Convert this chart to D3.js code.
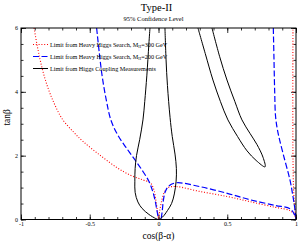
<!DOCTYPE html>
<html>
<head>
<meta charset="utf-8">
<script src="https://cdn.jsdelivr.net/npm/d3@7"></script>
<style>
body { margin: 0; background: #fff; }
text { font-family: "Liberation Serif", "DejaVu Serif", serif; }
</style>
</head>
<body>
<div class="vis"></div>
<script>
// chart data, [cos(b-a), tan b]
const X_TICKS = [-1, -0.5, 0, 0.5, 1];
const X_TICK_LABELS = ["-1", "-0.5", "0", "0.5", "1"];
const Y_TICKS = [0, 2, 4, 6];
const Y_TICK_LABELS = ["0", "2", "4", "6"];

const RED_LEFT = [[-0.905, 6], [-0.88, 5.4], [-0.85, 4.8], [-0.81, 4.2], [-0.76, 3.65], [-0.70, 3.15],
  [-0.62, 2.75], [-0.55, 2.45], [-0.43, 2.03], [-0.3, 1.62], [-0.2, 1.38], [-0.12, 1.25],
  [-0.06, 1.15], [-0.035, 0.95], [-0.02, 0.62], [-0.009, 0.3], [0, 0.02]];
const RED_RIGHT = [[0, 0.02], [0.01, 0.3], [0.025, 0.62], [0.045, 0.88], [0.07, 1.0], [0.13, 1.03],
  [0.3, 0.88], [0.5, 0.72], [0.665, 0.56], [0.85, 0.38], [0.956, 0.28], [0.99, 0.14], [0.998, 0.04]];
const RED_EDGE = [[0.998, 0.04], [0.99, 0.4], [0.982, 1.0], [0.978, 2], [0.977, 3], [0.977, 4.5], [0.978, 6]];

const BLUE_LEFT = [[-0.45, 6], [-0.43, 5.2], [-0.41, 4.5], [-0.38, 3.75], [-0.345, 3.1], [-0.29, 2.6],
  [-0.235, 2.25], [-0.18, 1.92], [-0.12, 1.55], [-0.07, 1.2], [-0.042, 0.88], [-0.025, 0.6],
  [-0.012, 0.3], [0, 0.02]];
const BLUE_RIGHT = [[0.02, 0.03], [0.028, 0.3], [0.036, 0.62], [0.05, 0.88], [0.075, 1.05], [0.13, 1.15],
  [0.3, 1.03], [0.5, 0.82], [0.665, 0.62], [0.85, 0.44], [0.956, 0.34], [0.99, 0.15], [1.0, 0.02]];
const BLUE_EDGE = [[1.0, 0.02], [0.993, 0.3], [0.975, 0.8], [0.956, 1.24], [0.905, 2.08], [0.87, 2.7],
  [0.852, 3.2], [0.845, 4], [0.84, 5], [0.835, 6]];

const BLACK_INNER = [[-0.062, 6], [-0.07, 5.5], [-0.085, 4.5], [-0.1, 3.7], [-0.113, 3.12], [-0.137, 2.5],
  [-0.16, 2.0], [-0.17, 1.6], [-0.172, 1.2], [-0.17, 0.85], [-0.15, 0.55], [-0.12, 0.35],
  [-0.07, 0.16], [-0.02, 0.03], [0, 0], [0.03, 0.08], [0.065, 0.28], [0.095, 0.5], [0.115, 0.8],
  [0.128, 1.2], [0.13, 1.6], [0.12, 2.05], [0.1, 2.6], [0.084, 3.2], [0.065, 4.2], [0.055, 5], [0.047, 6]];
const BLACK_OUTER = [[0.287, 6], [0.34, 5.2], [0.396, 4.37], [0.45, 3.7], [0.505, 3.12], [0.575, 2.6],
  [0.644, 2.15], [0.71, 1.85], [0.775, 1.65], [0.76, 1.95], [0.716, 2.35], [0.665, 2.7],
  [0.607, 3.12], [0.555, 3.7], [0.498, 4.37], [0.445, 5.1], [0.389, 6]];

const LEGEND = ["Limit from Heavy Higgs Search, M|H|=300 GeV", "Limit from Heavy Higgs Search, M|H|=200 GeV",
  "Limit from Higgs Coupling Measurements"];

const FRAME_WIDTH = 299;
const FRAME_HEIGHT = 243;
const MARGINS = {left: 21, right: 3, top: 28, bottom: 23.5};

const VIS_WIDTH = FRAME_WIDTH - MARGINS.left - MARGINS.right;
const VIS_HEIGHT = FRAME_HEIGHT - MARGINS.top - MARGINS.bottom;

const FRAME = d3.select('.vis')
  .append('svg')
    .attr('width', FRAME_WIDTH)
    .attr('height', FRAME_HEIGHT);

const X_SCALE = d3.scaleLinear().domain([-1, 1]).range([MARGINS.left, MARGINS.left + VIS_WIDTH]);
const Y_SCALE = d3.scaleLinear().domain([0, 6]).range([MARGINS.top + VIS_HEIGHT, MARGINS.top]);

const defs = FRAME.append('defs');
defs.append('clipPath').attr('id', 'clip')
  .append('rect')
    .attr('x', MARGINS.left).attr('y', MARGINS.top)
    .attr('width', VIS_WIDTH).attr('height', VIS_HEIGHT);

// axes with inside ticks on all four sides
const xMinor = d3.range(-1, 1.001, 0.1);
const yMinor = d3.range(0, 6.001, 0.5);

function axisGroup(axis, transform) {
  const g = FRAME.append('g').attr('transform', transform).call(axis);
  g.select('.domain').remove();
  g.selectAll('line').attr('stroke', '#000').attr('stroke-width', 0.8);
  return g;
}

const bottomY = MARGINS.top + VIS_HEIGHT;
const rightX = MARGINS.left + VIS_WIDTH;

axisGroup(d3.axisBottom(X_SCALE).tickValues(xMinor).tickSize(-2.5).tickFormat(''), `translate(0,${bottomY})`);
axisGroup(d3.axisTop(X_SCALE).tickValues(xMinor).tickSize(-2.5).tickFormat(''), `translate(0,${MARGINS.top})`);
axisGroup(d3.axisLeft(Y_SCALE).tickValues(yMinor).tickSize(-2.5).tickFormat(''), `translate(${MARGINS.left},0)`);
axisGroup(d3.axisRight(Y_SCALE).tickValues(yMinor).tickSize(-2.5).tickFormat(''), `translate(${rightX},0)`);

const xAxis = axisGroup(d3.axisBottom(X_SCALE).tickValues(X_TICKS).tickSize(-5).tickPadding(3)
  .tickFormat((d, i) => X_TICK_LABELS[i]), `translate(0,${bottomY})`);
axisGroup(d3.axisTop(X_SCALE).tickValues(X_TICKS).tickSize(-5).tickFormat(''), `translate(0,${MARGINS.top})`);
const yAxis = axisGroup(d3.axisLeft(Y_SCALE).tickValues(Y_TICKS).tickSize(-5).tickPadding(3)
  .tickFormat((d, i) => Y_TICK_LABELS[i]), `translate(${MARGINS.left},0)`);
axisGroup(d3.axisRight(Y_SCALE).tickValues(Y_TICKS).tickSize(-5).tickFormat(''), `translate(${rightX},0)`);

xAxis.selectAll('text').attr('font-size', 6).attr('font-family', '"Liberation Serif", serif').attr('fill', '#000');
yAxis.selectAll('text').attr('font-size', 6).attr('font-family', '"Liberation Serif", serif').attr('fill', '#000');
xAxis.selectAll('.tick text').attr('dy', '0.5em');

// curves
const line = d3.line()
  .x((d) => X_SCALE(d[0]))
  .y((d) => Y_SCALE(d[1]))
  .curve(d3.curveCatmullRom.alpha(0.5));

const plot = FRAME.append('g').attr('clip-path', 'url(#clip)');

function drawCurve(pts, color, dash, width) {
  plot.append('path')
    .attr('d', line(pts))
    .attr('fill', 'none')
    .attr('stroke', color)
    .attr('stroke-width', width)
    .attr('stroke-dasharray', dash);
}

const RED_STYLE = ['#ff0000', '1,1.8', 1.1];
const BLUE_STYLE = ['#0000ff', '6,2.5', 1.2];
const BLACK_STYLE = ['#000000', null, 1.0];

drawCurve(RED_LEFT, ...RED_STYLE);
drawCurve(RED_RIGHT, ...RED_STYLE);
drawCurve(RED_EDGE, ...RED_STYLE);
drawCurve(BLUE_LEFT, ...BLUE_STYLE);
drawCurve(BLUE_RIGHT, ...BLUE_STYLE);
drawCurve(BLUE_EDGE, ...BLUE_STYLE);
drawCurve(BLACK_INNER, ...BLACK_STYLE);
drawCurve(BLACK_OUTER, ...BLACK_STYLE);

// frame
FRAME.append('rect')
  .attr('x', MARGINS.left).attr('y', MARGINS.top)
  .attr('width', VIS_WIDTH).attr('height', VIS_HEIGHT)
  .attr('fill', 'none').attr('stroke', '#000').attr('stroke-width', 1);

// legend
const STYLES = [RED_STYLE, BLUE_STYLE, BLACK_STYLE];
const legendY = [44.5, 56.5, 68.5];
LEGEND.forEach((label, i) => {
  const s = STYLES[i];
  FRAME.append('line')
    .attr('x1', 33).attr('x2', 48)
    .attr('y1', legendY[i]).attr('y2', legendY[i])
    .attr('stroke', s[0]).attr('stroke-width', s[2])
    .attr('stroke-dasharray', s[1]);
  const parts = label.split('|');
  const t = FRAME.append('text')
    .attr('x', 50).attr('y', legendY[i] + 2.2)
    .attr('font-size', 6.2).attr('fill', '#000');
  t.append('tspan').text(parts[0]);
  if (parts.length > 1) {
    t.append('tspan').attr('font-size', 4).attr('dy', 1.4).text(parts[1]);
    t.append('tspan').attr('dy', -1.4).text(parts[2]);
  }
});

// titles
FRAME.append('text')
  .attr('x', 156.5).attr('y', 10.5)
  .attr('text-anchor', 'middle')
  .attr('font-size', 10.5)
  .text('Type-II');
FRAME.append('text')
  .attr('x', 153.5).attr('y', 20.7)
  .attr('text-anchor', 'middle')
  .attr('font-size', 6.5)
  .text('95% Confidence Level');

FRAME.append('text')
  .attr('x', X_SCALE(0)).attr('y', 239)
  .attr('text-anchor', 'middle')
  .attr('font-size', 9.5)
  .text('cos(β-α)');
FRAME.append('text')
  .attr('transform', `translate(10,${Y_SCALE(3.2)}) rotate(-90)`)
  .attr('text-anchor', 'middle')
  .attr('font-size', 9.5)
  .text('tanβ');
</script>
</body>
</html>
